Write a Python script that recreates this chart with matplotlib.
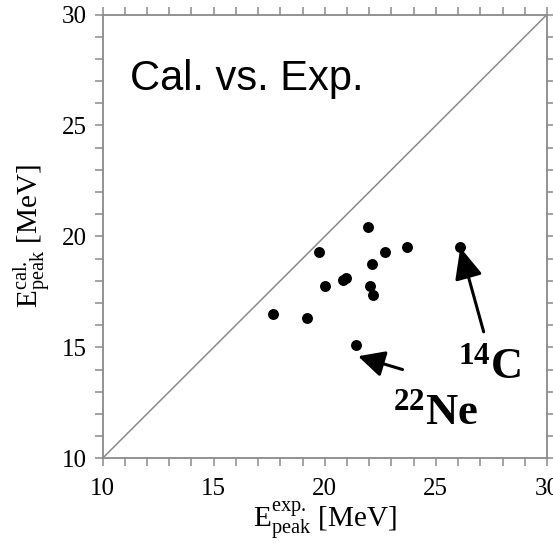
import matplotlib
matplotlib.use("Agg")
import matplotlib.pyplot as plt
from matplotlib.ticker import MultipleLocator

# Data
exp_peak = [17.69, 19.20, 19.72, 20.01, 20.80, 20.97, 21.42, 21.93, 22.02, 22.14, 22.17, 22.73, 23.70, 26.10]
cal_peak = [16.51, 16.32, 19.29, 17.77, 18.03, 18.12, 15.11, 20.44, 17.77, 18.75, 17.36, 19.29, 19.50, 19.50]
axis_range = [10, 30]
major_ticks = [10, 15, 20, 25, 30]
c14_point = (26.10, 19.50)
ne22_point = (21.42, 15.11)

plt.rcParams['mathtext.fontset'] = 'custom'
plt.rcParams['mathtext.rm'] = 'Liberation Serif'
plt.rcParams['mathtext.it'] = 'Liberation Serif:italic'
plt.rcParams['mathtext.bf'] = 'Liberation Serif:bold'

W, H = 553, 547
fig = plt.figure(figsize=(W / 100, H / 100), dpi=100)
ax = fig.add_axes([102.5 / W, 1 - 458.3 / H, (547 - 102.5) / W, (458.3 - 14.5) / H])

spine_col = '#8a8a8a'
ax.plot(axis_range, axis_range, color='#8a8a8a', lw=1.1, zorder=1)
ax.scatter(exp_peak, cal_peak, s=62, color='black', zorder=3, linewidths=0)

ax.set_xlim(axis_range)
ax.set_ylim(axis_range)
ax.xaxis.set_minor_locator(MultipleLocator(1))
ax.yaxis.set_minor_locator(MultipleLocator(1))
ax.set_xticks(major_ticks)
ax.set_yticks(major_ticks)
ax.set_xticklabels([str(t) for t in major_ticks])
ax.set_yticklabels([str(t) for t in major_ticks])

for sp in ax.spines.values():
    sp.set_color(spine_col)
    sp.set_linewidth(1.3)

ax.tick_params(which='both', direction='out', length=5.5, width=1.1, color=spine_col,
               top=True, right=True, labeltop=False, labelright=False)
ax.tick_params(which='major', labelsize=18)
ax.tick_params(axis='x', which='major', pad=9)
ax.tick_params(axis='y', which='major', pad=6)
for lab in ax.get_xticklabels() + ax.get_yticklabels():
    lab.set_family('Liberation Serif')

ax.set_xlabel(r'$\mathrm{E^{exp.}_{peak}}$ [MeV]', family='Liberation Serif', fontsize=21, labelpad=0)
ax.set_ylabel(r'$\mathrm{E^{cal.}_{peak}}$ [MeV]', family='Liberation Serif', fontsize=21, labelpad=6)

ax.text(0.062, 0.83, 'Cal. vs. Exp.', transform=ax.transAxes, family='Liberation Sans',
        fontsize=30, ha='left', va='baseline')

# annotations
ax.annotate('', xy=c14_point, xytext=(27.15, 15.7),
            arrowprops=dict(arrowstyle='-|>,head_length=1.9,head_width=0.85', color='black', lw=2.2,
                            shrinkA=0, shrinkB=0))
ax.text(26.0, 13.6, r'$\mathbf{^{14}C}$', fontsize=32, ha='left', va='baseline')

ax.annotate('', xy=(21.5, 14.6), xytext=(23.5, 14.0),
            arrowprops=dict(arrowstyle='-|>,head_length=1.6,head_width=0.8', color='black', lw=2.2,
                            shrinkA=0, shrinkB=0))
ax.text(23.05, 11.55, r'$\mathbf{^{22}Ne}$', fontsize=32, ha='left', va='baseline')

fig.savefig('out.png', dpi=100)
